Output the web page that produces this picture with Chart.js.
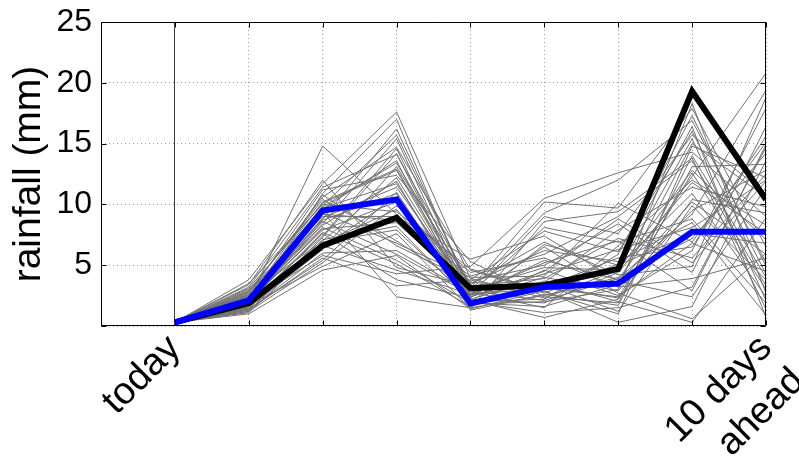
<!DOCTYPE html>
<html>
<head>
<meta charset="utf-8">
<script src="https://cdn.jsdelivr.net/npm/chart.js@4"></script>
<style>
  html, body { margin: 0; padding: 0; background: #ffffff; }
  #c { display: block; }
</style>
</head>
<body>
<canvas id="c" width="799" height="459"></canvas>
<script>
// ---- data ----
const days = [0, 1, 2, 3, 4, 5, 6, 7, 8];
const labeledDays = [0, 8];
const labeledText = [['today'], ['10 days', 'ahead']];
const yTickValues = [5, 10, 15, 20, 25];

const meanForecast = [0.3, 2.1, 9.5, 10.4, 1.85, 3.2, 3.5, 7.75, 7.75];
const observedRain = [0.3, 1.9, 6.6, 8.9, 3.1, 3.35, 4.7, 19.3, 10.4];

const member01 = [0.3, 2.1, 14.8, 9.2, 2.6, 3.1, 2.4, 6.8, 4.5];
const member02 = [0.3, 3.8, 11.7, 17.6, 3.9, 2.3, 4.6, 15.4, 2.1];
const member03 = [0.3, 1.6, 10.9, 17.0, 2.5, 5.4, 3.8, 12.3, 20.8];
const member04 = [0.3, 2.4, 9.9, 15.7, 3.1, 10.2, 9.7, 17.9, 6.5];
const member05 = [0.3, 1.9, 8.4, 15.4, 2.2, 4.0, 2.9, 9.5, 12.8];
const member06 = [0.3, 2.8, 10.6, 14.7, 4.6, 2.7, 5.1, 16.4, 0.7];
const member07 = [0.3, 1.2, 7.3, 14.2, 2.0, 1.1, 1.5, 3.2, 14.7];
const member08 = [0.3, 2.2, 9.6, 13.6, 1.6, 3.6, 7.9, 11.4, 9.8];
const member09 = [0.3, 1.5, 6.3, 13.1, 3.4, 6.9, 4.2, 4.9, 18.8];
const member10 = [0.3, 2.6, 11.2, 12.4, 5.3, 2.4, 1.9, 14.0, 4.0];
const member11 = [0.3, 1.8, 8.9, 11.4, 2.9, 9.3, 12.0, 16.9, 5.2];
const member12 = [0.3, 3.1, 10.1, 12.8, 2.4, 4.3, 6.3, 8.1, 12.0];
const member13 = [0.3, 1.4, 5.4, 11.0, 1.8, 2.0, 3.0, 18.3, 2.7];
const member14 = [0.3, 2.0, 7.9, 10.2, 3.6, 3.2, 5.6, 6.5, 15.6];
const member15 = [0.3, 1.1, 6.8, 9.6, 2.1, 0.7, 2.2, 10.4, 9.3];
const member16 = [0.3, 2.5, 9.2, 8.7, 4.1, 5.9, 9.0, 13.6, 3.3];
const member17 = [0.3, 1.7, 4.9, 7.6, 1.4, 2.9, 0.3, 1.6, 13.6];
const member18 = [0.3, 2.9, 10.4, 7.0, 3.0, 4.8, 4.6, 12.8, 7.1];
const member19 = [0.3, 1.3, 6.0, 6.2, 2.7, 8.1, 6.9, 8.8, 1.9];
const member20 = [0.3, 2.3, 8.1, 5.4, 1.9, 1.6, 3.4, 15.0, 10.6];
const member21 = [0.3, 3.4, 12.0, 4.8, 3.3, 3.9, 7.2, 5.6, 12.5];
const member22 = [0.3, 1.6, 7.6, 3.8, 2.3, 6.5, 2.7, 0.6, 6.0];
const member23 = [0.3, 2.7, 9.4, 2.4, 1.5, 2.5, 4.0, 7.2, 14.2];
const member24 = [0.3, 2.0, 5.8, 4.3, 4.9, 10.5, 12.6, 14.3, 9.0];
const member25 = [0.3, 1.9, 8.6, 5.9, 2.6, 3.4, 1.2, 9.9, 3.8];
const member26 = [0.3, 2.2, 10.8, 6.6, 3.7, 5.0, 8.4, 4.4, 16.4];
const member27 = [0.3, 1.4, 7.1, 8.2, 2.0, 2.2, 5.9, 17.3, 4.9];
const member28 = [0.3, 3.0, 9.0, 9.0, 5.5, 7.4, 3.7, 2.4, 11.4];
const member29 = [0.3, 1.6, 6.5, 10.6, 2.8, 1.5, 6.6, 12.0, 8.3];
const member30 = [0.3, 2.4, 8.3, 11.9, 1.7, 4.6, 2.5, 6.2, 17.9];
const member31 = [0.3, 1.8, 9.8, 13.4, 3.2, 3.0, 4.9, 10.9, 2.4];
const member32 = [0.3, 2.6, 7.0, 12.2, 2.5, 9.0, 7.6, 15.7, 10.9];
const member33 = [0.3, 1.2, 5.2, 9.9, 4.4, 5.6, 3.2, 3.9, 5.6];
const member34 = [0.3, 2.1, 8.7, 10.9, 1.3, 2.6, 1.7, 13.1, 13.3];
const member35 = [0.3, 3.2, 11.4, 14.1, 3.5, 6.2, 5.3, 8.5, 0.9];
const member36 = [0.3, 1.5, 6.9, 7.9, 2.2, 1.9, 4.4, 11.8, 7.6];
const member37 = [0.3, 2.8, 9.3, 6.8, 4.0, 4.1, 10.1, 6.9, 15.1];
const member38 = [0.3, 1.7, 7.7, 5.1, 1.6, 3.7, 2.0, 0.3, 8.9];
const member39 = [0.3, 2.3, 10.2, 12.9, 2.9, 2.1, 3.9, 9.2, 19.4];
const member40 = [0.3, 1.3, 5.6, 3.3, 3.8, 7.8, 6.1, 16.0, 4.3];
const member41 = [0.3, 2.5, 9.7, 11.7, 2.4, 4.5, 8.8, 5.2, 11.9];
const member42 = [0.3, 2.0, 8.0, 8.5, 3.1, 3.3, 2.3, 12.6, 3.0];
const member43 = [0.3, 1.9, 7.4, 14.6, 1.9, 6.7, 5.0, 7.6, 6.8];
const member44 = [0.3, 3.5, 10.0, 9.4, 4.7, 2.8, 1.0, 14.8, 12.2];
const member45 = [0.3, 1.6, 6.6, 4.6, 2.6, 5.2, 7.0, 2.9, 14.9];
const member46 = [0.3, 2.1, 8.8, 16.2, 3.0, 3.5, 3.5, 10.2, 5.9];
const member47 = [0.3, 1.0, 4.6, 5.8, 1.4, 8.6, 9.4, 13.8, 1.4];

const ensemble = [
  member01, member02, member03, member04, member05, member06, member07, member08,
  member09, member10, member11, member12, member13, member14, member15, member16,
  member17, member18, member19, member20, member21, member22, member23, member24,
  member25, member26, member27, member28, member29, member30, member31, member32,
  member33, member34, member35, member36, member37, member38, member39, member40,
  member41, member42, member43, member44, member45, member46, member47
];

// ---- chart ----
const toPoints = vals => days.map((d, i) => ({ x: d, y: vals[i] }));

const lineBase = {
  pointRadius: 0,
  pointHoverRadius: 0,
  tension: 0,
  fill: false,
  clip: 0,
  borderJoinStyle: 'miter',
  borderCapStyle: 'butt'
};

const datasets = [
  Object.assign({}, lineBase, { label: 'mean', data: toPoints(meanForecast), borderColor: '#0000ff', borderWidth: 6 }),
  Object.assign({}, lineBase, { label: 'observed', data: toPoints(observedRain), borderColor: '#000000', borderWidth: 6 })
];
ensemble.forEach((m, k) => {
  datasets.push(Object.assign({}, lineBase, {
    label: 'member ' + (k + 1), data: toPoints(m), borderColor: '#717171', borderWidth: 1
  }));
});

const framePlugin = {
  id: 'frame',
  afterDatasetsDraw(chart) {
    const { ctx, chartArea: a, scales } = chart;
    const L = Math.round(a.left) + 0.5, R = Math.round(a.right) - 0.5;
    const T = Math.round(a.top) + 0.5, B = Math.round(a.bottom) - 0.5;
    ctx.save();
    ctx.strokeStyle = '#000000';
    ctx.lineWidth = 1;
    ctx.setLineDash([]);
    ctx.beginPath();
    ctx.rect(L, T, R - L, B - T);
    const tl = 5;
    scales.x.ticks.forEach(t => {
      const px = Math.round(scales.x.getPixelForValue(t.value)) + 0.5;
      ctx.moveTo(px, B); ctx.lineTo(px, B - tl);
      ctx.moveTo(px, T); ctx.lineTo(px, T + tl);
    });
    scales.y.ticks.forEach(t => {
      const py = Math.round(scales.y.getPixelForValue(t.value)) + 0.5;
      ctx.moveTo(L, py); ctx.lineTo(L + tl, py);
      ctx.moveTo(R, py); ctx.lineTo(R - tl, py);
    });
    ctx.stroke();
    ctx.restore();
  }
};

new Chart(document.getElementById('c'), {
  type: 'line',
  data: { datasets },
  plugins: [framePlugin],
  options: {
    responsive: false,
    animation: false,
    devicePixelRatio: 1,
    layout: { padding: { top: 22, right: 33, bottom: 0, left: 0 } },
    plugins: { legend: { display: false }, tooltip: { enabled: false } },
    scales: {
      x: {
        type: 'linear',
        min: -1,
        max: 8,
        afterFit(scale) { scale.height = 133; scale.paddingLeft = 0; scale.paddingRight = 0; },
        ticks: {
          stepSize: 1,
          autoSkip: false,
          minRotation: 45,
          maxRotation: 45,
          padding: 0,
          color: '#000000',
          font: { family: 'Liberation Sans, Arial, sans-serif', size: 38, lineHeight: 1.22 },
          callback(v) {
            const k = labeledDays.indexOf(v);
            return k >= 0 ? labeledText[k] : '';
          }
        },
        grid: {
          drawTicks: false,
          color: ctx => (ctx.tick && ctx.tick.value === 0) ? '#3a3a3a' : '#9a9a9a',
          lineWidth: 1
        },
        border: {
          display: false,
          dash: ctx => (ctx.tick && ctx.tick.value === 0) ? [] : [1, 3]
        }
      },
      y: {
        type: 'linear',
        min: 0,
        max: 25,
        afterFit(scale) { scale.width = 101; scale.paddingTop = 0; scale.paddingBottom = 0; },
        afterBuildTicks(scale) { scale.ticks = [0].concat(yTickValues).map(v => ({ value: v })); },
        ticks: {
          padding: 9,
          color: '#000000',
          font: { family: 'Liberation Sans, Arial, sans-serif', size: 32 },
          callback(v) { return yTickValues.indexOf(v) >= 0 ? String(v) : ''; }
        },
        grid: { drawTicks: false, color: '#9a9a9a', lineWidth: 1 },
        border: { display: false, dash: [1, 3] },
        title: {
          display: true,
          text: 'rainfall (mm)',
          color: '#000000',
          padding: { top: 6, bottom: 0 },
          font: { family: 'Liberation Sans, Arial, sans-serif', size: 39 }
        }
      }
    }
  }
});
</script>
</body>
</html>
